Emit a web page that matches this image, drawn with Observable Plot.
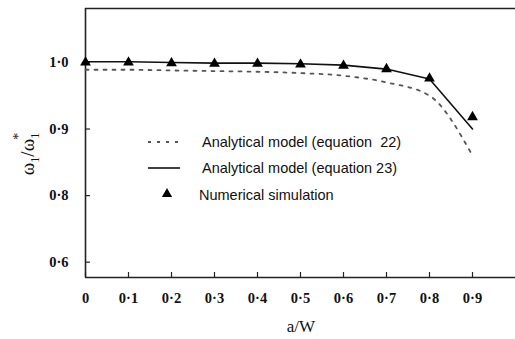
<!DOCTYPE html>
<html><head><meta charset="utf-8">
<script src="https://cdn.jsdelivr.net/npm/d3@7"></script>
<script src="https://cdn.jsdelivr.net/npm/@observablehq/plot@0.6"></script>
<style>body{margin:0;background:#fff}svg{display:block}</style>
</head><body><div id="chart"></div>
<script>
const aW = [0, 0.1, 0.2, 0.3, 0.4, 0.5, 0.6, 0.7, 0.8, 0.9];
const eq22 = [0.989, 0.989, 0.988, 0.987, 0.986, 0.984, 0.980, 0.970, 0.950, 0.860];
const eq23 = [1.001, 1.001, 1.000, 0.999, 0.999, 0.998, 0.996, 0.990, 0.975, 0.900];
const numerical = [1.000, 1.000, 0.999, 0.998, 0.998, 0.997, 0.995, 0.990, 0.976, 0.918];
const xTicks = [0, 0.1, 0.2, 0.3, 0.4, 0.5, 0.6, 0.7, 0.8, 0.9];
const xTickLabels = ["0", "0·1", "0·2", "0·3", "0·4", "0·5", "0·6", "0·7", "0·8", "0·9"];
const yTicks = [1.0, 0.9, 0.8, 0.7];
const yTickLabels = ["1·0", "0·9", "0·8", "0·6"];
const legendLabels = ["Analytical model (equation  22)", "Analytical model (equation 23)", "Numerical simulation"];

const rows = (ys) => aW.map((x, i) => ({x, y: ys[i]}));
const W = 515, H = 339, mL = 85, mR = 0, mT = 8, mB = 62;
const innerW = W - mL - mR, innerH = H - mT - mB;
const yDomain = [0.677, 1.081];

const plot = Plot.plot({
  width: W, height: H,
  marginLeft: mL, marginRight: mR, marginTop: mT, marginBottom: mB,
  style: {fontFamily: "'Liberation Serif', 'Times New Roman', serif", fontSize: "14px", color: "#111", background: "#fff"},
  x: {domain: [0, 1], ticks: xTicks, tickFormat: d => xTickLabels[xTicks.indexOf(d)], label: null},
  y: {domain: yDomain, ticks: yTicks, tickFormat: d => yTickLabels[yTicks.indexOf(d)], label: null},
  marks: [
    Plot.axisX({ticks: xTicks, tickSize: 0, tickPadding: 15, tickFormat: d => xTickLabels[xTicks.indexOf(d)], label: null, fontSize: 14.5, fontWeight: "bold"}),
    Plot.axisY({ticks: yTicks, tickSize: 0, tickPadding: 17, tickFormat: d => yTickLabels[yTicks.indexOf(d)], label: null, fontSize: 14.5, fontWeight: "bold"}),
    Plot.ruleX(xTicks, {stroke: "#222", strokeWidth: 1.2, insetTop: innerH - 5}),
    Plot.ruleY(yTicks, {stroke: "#222", strokeWidth: 1.2, insetRight: innerW - 5}),
    Plot.ruleX([0], {stroke: "#222", strokeWidth: 1.6}),
    Plot.ruleY([yDomain[0], yDomain[1]], {stroke: "#222", strokeWidth: 1.6}),
    Plot.line(rows(eq22), {x: "x", y: "y", stroke: "#555", strokeWidth: 1.8, strokeDasharray: "3,6", curve: "monotone-x"}),
    Plot.line(rows(eq23), {x: "x", y: "y", stroke: "#111", strokeWidth: 1.6}),
    Plot.dot(rows(numerical), {x: "x", y: "y", symbol: "triangle", fill: "#000", stroke: "none", r: 4})
  ]
});
document.getElementById("chart").appendChild(plot);

const svg = d3.select(plot);
// x-axis title
svg.append("text").attr("x", 301).attr("y", 332).attr("text-anchor", "middle")
  .attr("font-family", "'Liberation Serif', serif").attr("font-size", 17).attr("fill", "#111").text("a/W");
// y-axis title
const yl = svg.append("text").attr("transform", "translate(34,154) rotate(-90)").attr("text-anchor", "middle")
  .attr("font-family", "'Liberation Serif', serif").attr("font-size", 19).attr("fill", "#111");
yl.append("tspan").text("ω");
yl.append("tspan").attr("font-size", 12).attr("dy", 5).text("1");
yl.append("tspan").attr("dy", -5).text("/ω");
yl.append("tspan").attr("font-size", 12).attr("dy", 5).text("1");
yl.append("tspan").attr("font-size", 14).attr("dx", -7).attr("dy", -16).text("*");
// legend
const lg = svg.append("g").attr("font-family", "'Liberation Sans', Arial, sans-serif").attr("font-size", 14.5).attr("fill", "#111").attr("text-anchor", "start");
lg.append("line").attr("x1", 148).attr("x2", 180).attr("y1", 142).attr("y2", 142).attr("stroke", "#555").attr("stroke-width", 1.8).attr("stroke-dasharray", "3,6");
lg.append("line").attr("x1", 148).attr("x2", 180).attr("y1", 168).attr("y2", 168).attr("stroke", "#111").attr("stroke-width", 1.6);
lg.append("path").attr("d", d3.symbol(d3.symbolTriangle, Math.PI * 3.8 * 3.8)()).attr("transform", "translate(167,194)").attr("fill", "#000");
lg.append("text").attr("x", 202).attr("y", 147).text(legendLabels[0]);
lg.append("text").attr("x", 202).attr("y", 173).text(legendLabels[1]);
lg.append("text").attr("x", 199).attr("y", 200).text(legendLabels[2]);
</script>
</body></html>
